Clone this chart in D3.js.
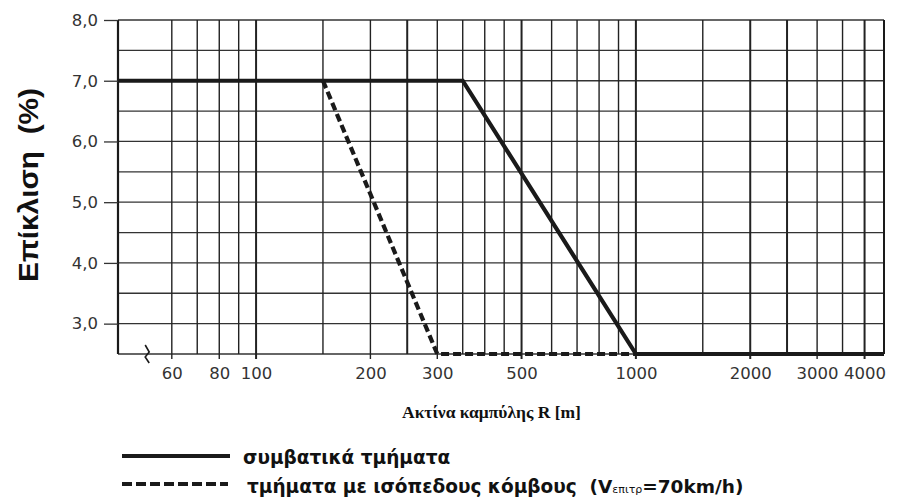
<!DOCTYPE html>
<html><head><meta charset="utf-8">
<script src="https://cdn.jsdelivr.net/npm/d3@7"></script>
<style>body{margin:0;background:#fff}svg{display:block}</style>
</head><body>
<script>
// ---- data ----
const xDomain = [43.3, 4500];
const yDomain = [2.5, 8.0];
const gridR = [60,70,80,90,100,150,200,250,300,350,400,450,500,600,700,800,900,1000,1500,2000,2500,3000,3500,4000];
const gridE = [2.5,3.0,3.5,4.0,4.5,5.0,5.5,6.0,6.5,7.0,7.5,8.0];
const xTickValues = [60,80,100,200,300,500,1000,2000,3000,4000];
const yTickValues = [3.0,4.0,5.0,6.0,7.0,8.0];
const conventionalR = [43.3, 350, 1000, 4500];
const conventionalE = [7.0, 7.0, 2.5, 2.5];
const junctionR = [150, 300, 1000];
const junctionE = [7.0, 2.5, 2.5];
const yTitle = "Επίκλιση  (%)";
const xTitle = "Ακτίνα καμπύλης R [m]";
const legendLabels = ["συμβατικά τμήματα", "τμήματα με ισόπεδους κόμβους  (V", "επιτρ", "=70km/h)"];

const W = 900, H = 497;
const m = {left:118, right:16, top:20, bottom:143};
const svg = d3.select("body").append("svg").attr("width",W).attr("height",H);
const x = d3.scaleLog().domain(xDomain).range([m.left, W-m.right]);
const y = d3.scaleLinear().domain(yDomain).range([H-m.bottom, m.top]);
const ink = "#1a1a1a";

// horizontal grid
svg.append("g").selectAll("line").data(gridE).join("line")
  .attr("x1", x(xDomain[0])).attr("x2", x(xDomain[1]))
  .attr("y1", d=>y(d)).attr("y2", d=>y(d))
  .attr("stroke", "#333").attr("stroke-width", 1.3);
// vertical grid
svg.append("g").selectAll("line").data(gridR).join("line")
  .attr("x1", d=>x(d)).attr("x2", d=>x(d))
  .attr("y1", y(yDomain[1])).attr("y2", d=> xTickValues.includes(d) ? y(yDomain[0])+5 : y(yDomain[0]))
  .attr("stroke", "#222").attr("stroke-width", d=> [100,1000,2000,4000,500,250,2500].includes(d) ? 2 : 1.4);
// frame: left axis + right border
svg.append("line").attr("x1",x(xDomain[0])).attr("x2",x(xDomain[0]))
  .attr("y1",y(yDomain[1])).attr("y2",y(yDomain[0])).attr("stroke",ink).attr("stroke-width",2.2);
svg.append("line").attr("x1",x(xDomain[1])).attr("x2",x(xDomain[1]))
  .attr("y1",y(yDomain[1])).attr("y2",y(yDomain[0])).attr("stroke",ink).attr("stroke-width",2);

// y axis ticks + labels
const yAxis = d3.axisLeft(y).tickValues(yTickValues).tickSize(14).tickPadding(6)
  .tickFormat(d=>d3.format(".1f")(d).replace(".",","));
const gy = svg.append("g").attr("transform",`translate(${m.left},0)`).call(yAxis);
gy.select(".domain").remove();
gy.selectAll(".tick line").attr("stroke","#333").attr("stroke-width",1.3);
gy.selectAll(".tick text").attr("fill","#333").style("font-family","DejaVu Sans").style("font-size","16.5px");

// x axis labels
const xAxis = d3.axisBottom(x).tickValues(xTickValues).tickSize(0).tickPadding(13).tickFormat(d3.format("d"));
const gx = svg.append("g").attr("transform",`translate(0,${y(yDomain[0])})`).call(xAxis);
gx.select(".domain").remove();
gx.selectAll(".tick text").attr("fill","#333").style("font-family","DejaVu Sans").style("font-size","16.5px");

// axis break squiggle
const bx = x(52), by = y(yDomain[0]);
svg.append("path").attr("d",`M${bx-3},${by-9} L${bx+1},${by-2} L${bx-3},${by+3} L${bx+1},${by+9}`)
  .attr("fill","none").attr("stroke",ink).attr("stroke-width",1.6);

// lines
const line = d3.line().x(d=>x(d[0])).y(d=>y(d[1]));
svg.append("path").datum(d3.zip(junctionR, junctionE)).attr("d",line)
  .attr("fill","none").attr("stroke",ink).attr("stroke-width",4.2).attr("stroke-dasharray","8,4");
svg.append("path").datum(d3.zip(conventionalR, conventionalE)).attr("d",line)
  .attr("fill","none").attr("stroke",ink).attr("stroke-width",4.2);

// titles
svg.append("text").attr("transform",`translate(38,185) rotate(-90)`)
  .attr("text-anchor","middle").style("font-family","Liberation Sans").style("font-weight","bold")
  .style("font-size","27px").attr("fill","#111").attr("xml:space","preserve")
  .attr("textLength",194).attr("lengthAdjust","spacingAndGlyphs").text(yTitle);
svg.append("text").attr("x",402).attr("y",418)
  .style("font-family","Liberation Serif").style("font-weight","bold").style("font-size","17.5px")
  .attr("fill","#111").text(xTitle);

// legend
const lg = svg.append("g");
lg.append("line").attr("x1",122).attr("x2",230).attr("y1",456).attr("y2",456).attr("stroke",ink).attr("stroke-width",4);
lg.append("line").attr("x1",122).attr("x2",228).attr("y1",484).attr("y2",484).attr("stroke",ink).attr("stroke-width",4).attr("stroke-dasharray","10,4");
lg.append("text").attr("x",243).attr("y",464).style("font-family","DejaVu Sans").style("font-weight","bold")
  .style("font-size","18.5px").attr("fill","#111").text(legendLabels[0]);
const t2 = lg.append("text").attr("x",247).attr("y",493).style("font-family","DejaVu Sans").style("font-weight","bold")
  .style("font-size","18.5px").attr("fill","#111").attr("xml:space","preserve");
t2.append("tspan").text(legendLabels[1]);
t2.append("tspan").style("font-size","11px").style("font-weight","normal").text(legendLabels[2]);
t2.append("tspan").text(legendLabels[3]);
</script>
</body></html>
